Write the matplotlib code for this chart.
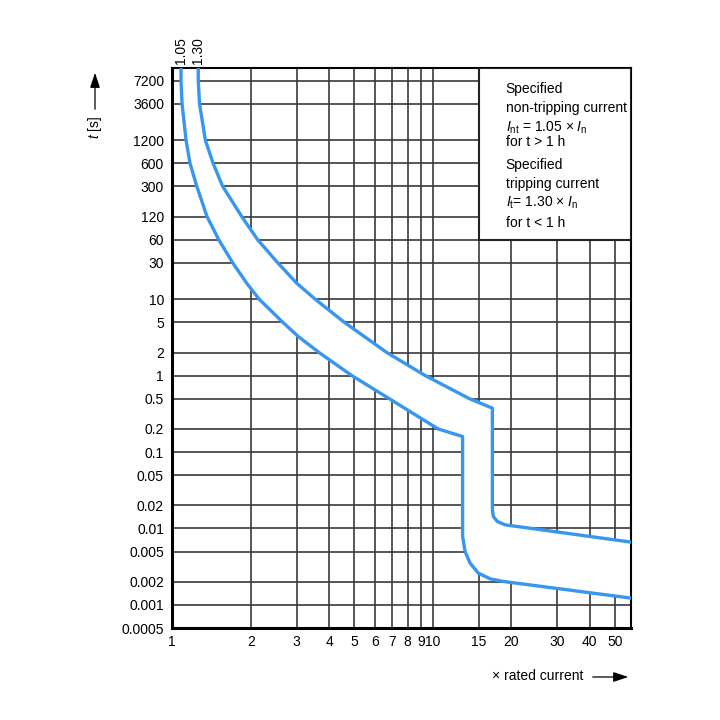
import matplotlib
matplotlib.use("Agg")
import matplotlib.pyplot as plt
from matplotlib.patches import Rectangle

plt.rcParams["font.family"] = ["Liberation Sans", "DejaVu Sans"]
plt.rcParams["font.size"] = 10
plt.rcParams["mathtext.fontset"] = "custom"
plt.rcParams["mathtext.rm"] = "Liberation Sans"
plt.rcParams["mathtext.it"] = "Liberation Sans:italic"

# axis ticks
x_ticks = [1, 2, 3, 4, 5, 6, 7, 8, 9, 10, 15, 20, 30, 40, 50]
y_ticks = [0.0005, 0.001, 0.002, 0.005, 0.01, 0.02, 0.05, 0.1, 0.2, 0.5,
           1, 2, 5, 10, 30, 60, 120, 300, 600, 1200, 3600, 7200]
y_labels = ["0.0005", "0.001", "0.002", "0.005", "0.01", "0.02", "0.05", "0.1",
            "0.2", "0.5", "1", "2", "5", "10", "30", "60", "120", "300", "600",
            "1200", "3600", "7200"]
x_max, y_max = 57.7, 10400

# lower limit curve (1.05 x In), top to right edge
low_x = [1.080, 1.080, 1.090, 1.129, 1.169, 1.241, 1.359, 1.507, 1.703, 1.931,
         2.153, 2.650, 3.047, 3.659, 4.887, 6.795, 10.5, 13.02,
         13.02, 13.31, 13.91, 14.96, 16.6, 18.67, 57.7]
low_y = [10400, 7200, 3600, 1200, 600, 300, 120, 60, 30, 16.1,
         10, 5, 3.235, 2, 1, 0.5, 0.2, 0.1595,
         0.0079, 0.0050, 0.00353, 0.00261, 0.0022, 0.00203, 0.00123]

# upper limit curve (1.30 x In), top to right edge
up_x = [1.258, 1.258, 1.272, 1.339, 1.433, 1.559, 1.847, 2.124, 2.535, 3.005,
        3.532, 4.564, 6.66, 9.35, 13.8, 16.94,
        16.94, 17.09, 17.7, 18.95, 57.7]
up_y = [10400, 7200, 3600, 1200, 600, 300, 120, 60, 30, 16.1,
        10, 5, 2, 1, 0.5, 0.375,
        0.01755, 0.01435, 0.01234, 0.01117, 0.00664]

curve_labels = ["1.05", "1.30"]
box_lines = ["Specified", "non-tripping current",
             r"$I_{\mathrm{nt}}$ = 1.05 × $I_{\mathrm{n}}$", "for t > 1 h",
             "Specified", "tripping current",
             r"$I_{\mathrm{t}}$= 1.30 × $I_{\mathrm{n}}$", "for t < 1 h"]
box_line_px = [89, 108, 128, 142, 165, 184, 203, 223]

blue = "#3796f0"

fig = plt.figure(figsize=(7.2, 7.2), dpi=100)
ax = fig.add_axes([172.3 / 720, 1 - 628 / 720, (631 - 172.3) / 720, (628 - 68.3) / 720])
ax.set_xscale("log")
ax.set_yscale("log")
ax.set_xlim(1, x_max)
ax.set_ylim(0.0005, y_max)

ax.set_xticks(x_ticks)
ax.set_xticklabels([str(v) for v in x_ticks])
ax.set_yticks(y_ticks)
ax.set_yticklabels(y_labels)
ax.minorticks_off()
ax.tick_params(length=0, pad=6, labelsize=10)
ax.tick_params(axis="x", pad=5)
ax.set_axisbelow(True)
ax.grid(True, color="#3a3a3a", lw=1.2)
for side in ["top", "right"]:
    ax.spines[side].set_linewidth(1.5)
for side in ["left", "bottom"]:
    ax.spines[side].set_linewidth(2.2)

# white band between the two curves hides the grid
ax.fill(low_x + up_x[::-1], low_y + up_y[::-1], color="white", lw=0, zorder=1.8)
ax.plot(low_x, low_y, color=blue, lw=2.4, zorder=3, solid_joinstyle="round")
ax.plot(up_x, up_y, color=blue, lw=2.4, zorder=3, solid_joinstyle="round")

# legend box in the upper right
ax.add_patch(Rectangle((15, 60), x_max - 15, y_max - 60, facecolor="white",
                       edgecolor="#222222", lw=1.5, zorder=4))
for txt, py in zip(box_lines, box_line_px):
    fig.text(505.7 / 720, 1 - py / 720, txt, ha="left", va="center", fontsize=10, zorder=5)

# rotated curve labels above the plot
for xv, lab in zip([low_x[0], up_x[0]], curve_labels):
    ax.text(xv, 1.008, lab, transform=ax.get_xaxis_transform(), rotation=90,
            ha="center", va="bottom", fontsize=10)

# axis titles with arrows
fig.text(95 / 720, 1 - 127 / 720, r"$t$ [s]", rotation=90, ha="center", va="center", fontsize=10)
ax.annotate("", xy=(95 / 720, 1 - 70 / 720), xytext=(95 / 720, 1 - 112 / 720),
            xycoords="figure fraction", textcoords="figure fraction",
            arrowprops=dict(arrowstyle="-|>,head_length=0.9,head_width=0.3", color="black", lw=0.9))
fig.text(583 / 720, 1 - 676 / 720, "× rated current", ha="right", va="center", fontsize=10)
ax.annotate("", xy=(631 / 720, 1 - 677 / 720), xytext=(590 / 720, 1 - 677 / 720),
            xycoords="figure fraction", textcoords="figure fraction",
            arrowprops=dict(arrowstyle="-|>,head_length=0.9,head_width=0.3", color="black", lw=0.9))

fig.savefig("out.png", dpi=100)
